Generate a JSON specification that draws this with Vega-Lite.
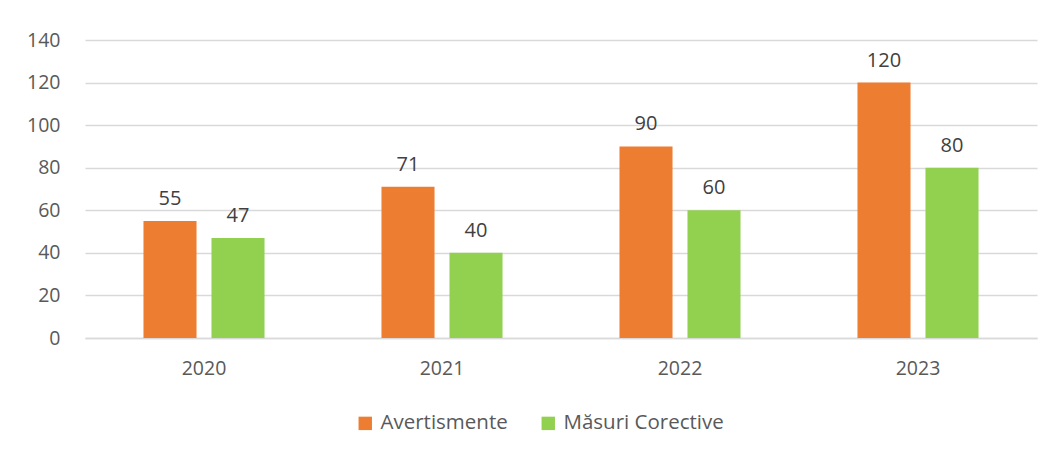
{
  "$schema": "https://vega.github.io/schema/vega-lite/v6.json",
  "autosize": {"type": "none"},
  "padding": {"left": 85, "top": 40, "right": 17, "bottom": 114},
  "width": 952,
  "height": 298,
  "background": "white",
  "config": {
    "view": {"stroke": null},
    "font": "Open Sans",
    "axis": {"labelFont": "Open Sans", "labelColor": "#595959", "labelFontSize": 19.5, "ticks": false, "domain": false, "gridColor": "#D9D9D9", "gridWidth": 1.3},
    "legend": {"labelFont": "Open Sans", "labelColor": "#595959", "labelFontSize": 20.5, "labelLimit": 400}
  },
  "data": {
    "values": [
      {"year": "2020", "series": "Avertismente", "value": 55},
      {"year": "2020", "series": "Măsuri Corective", "value": 47},
      {"year": "2021", "series": "Avertismente", "value": 71},
      {"year": "2021", "series": "Măsuri Corective", "value": 40},
      {"year": "2022", "series": "Avertismente", "value": 90},
      {"year": "2022", "series": "Măsuri Corective", "value": 60},
      {"year": "2023", "series": "Avertismente", "value": 120},
      {"year": "2023", "series": "Măsuri Corective", "value": 80}
    ]
  },
  "encoding": {
    "x": {"field": "year", "type": "nominal", "title": null,
      "scale": {"paddingInner": 0, "paddingOuter": 0},
      "axis": {"labelAngle": 0, "labelPadding": 21, "grid": false, "domain": true, "domainColor": "#D9D9D9", "domainWidth": 1.3}},
    "xOffset": {"field": "series", "type": "nominal", "scale": {"paddingInner": 0.22, "paddingOuter": 0.86}},
    "y": {"field": "value", "type": "quantitative", "title": null,
      "scale": {"domain": [0, 140], "nice": false},
      "axis": {"values": [0, 20, 40, 60, 80, 100, 120, 140], "labelPadding": 25, "grid": true}}
  },
  "layer": [
    {
      "mark": {"type": "bar"},
      "encoding": {
        "color": {"field": "series", "type": "nominal", "title": null,
          "scale": {"domain": ["Avertismente", "Măsuri Corective"], "range": ["#ED7D31", "#92D050"]},
          "legend": {"orient": "none", "direction": "horizontal", "legendX": 270, "legendY": 373, "symbolType": "square", "symbolSize": 180, "symbolStrokeWidth": 0, "columnPadding": 30, "labelOffset": 5, "labelLimit": 400}}
      }
    },
    {
      "mark": {"type": "text", "dy": -12, "baseline": "bottom", "fontSize": 20, "color": "#404040", "font": "Open Sans"},
      "encoding": {"text": {"field": "value", "type": "quantitative"}}
    }
  ]
}
